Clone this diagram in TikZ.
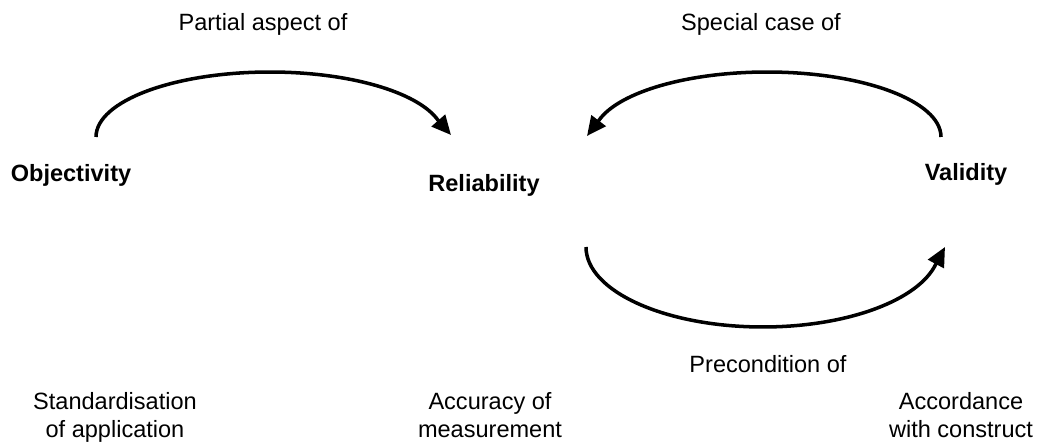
\documentclass[tikz,border=0pt]{standalone}
\usepackage{fontspec}
\setmainfont{Liberation Sans}
\usepackage{tikz}
\usetikzlibrary{arrows.meta}

\begin{document}
\begin{tikzpicture}[>={Triangle[length=11pt,width=10pt]}, line width=2pt, x=0.02cm, y=-0.02cm, font=\fontsize{13.4}{15.9}\selectfont, every node/.style={anchor=base,align=center,inner sep=0pt}]
  \useasboundingbox (0,0) rectangle (1049,446);
  \node (0) at (71,182) {\textbf{Objectivity}};
  \node (1) at (484,192) {\textbf{Reliability}};
  \node (2) at (966,181) {\textbf{Validity}};
  \node (3) at (263,31) {Partial aspect of};
  \node (4) at (761,31) {Special case of};
  \node (5) at (768,372) {Precondition of};
  \node (6) at (115,437) {Standardisation\\of application};
  \node (7) at (490,437) {Accuracy of\\measurement};
  \node (8) at (961,437) {Accordance\\with construct};

  \coordinate (a0) at (96,137);
  \coordinate (a1) at (451,135);
  \coordinate (b0) at (941,137);
  \coordinate (b1) at (587,136);
  \coordinate (c0) at (586,247);
  \coordinate (c1) at (945,247);

  \draw[->] (a0) arc[start angle=180,end angle=15,x radius=3.48cm,y radius=1.3cm] -- (a1);
  \draw[->] (b0) arc[start angle=0,end angle=165,x radius=3.48cm,y radius=1.3cm] -- (b1);
  \draw[->] (c0) arc[start angle=180,end angle=345,x radius=3.54cm,y radius=1.6cm] -- (c1);
\end{tikzpicture}
\end{document}
